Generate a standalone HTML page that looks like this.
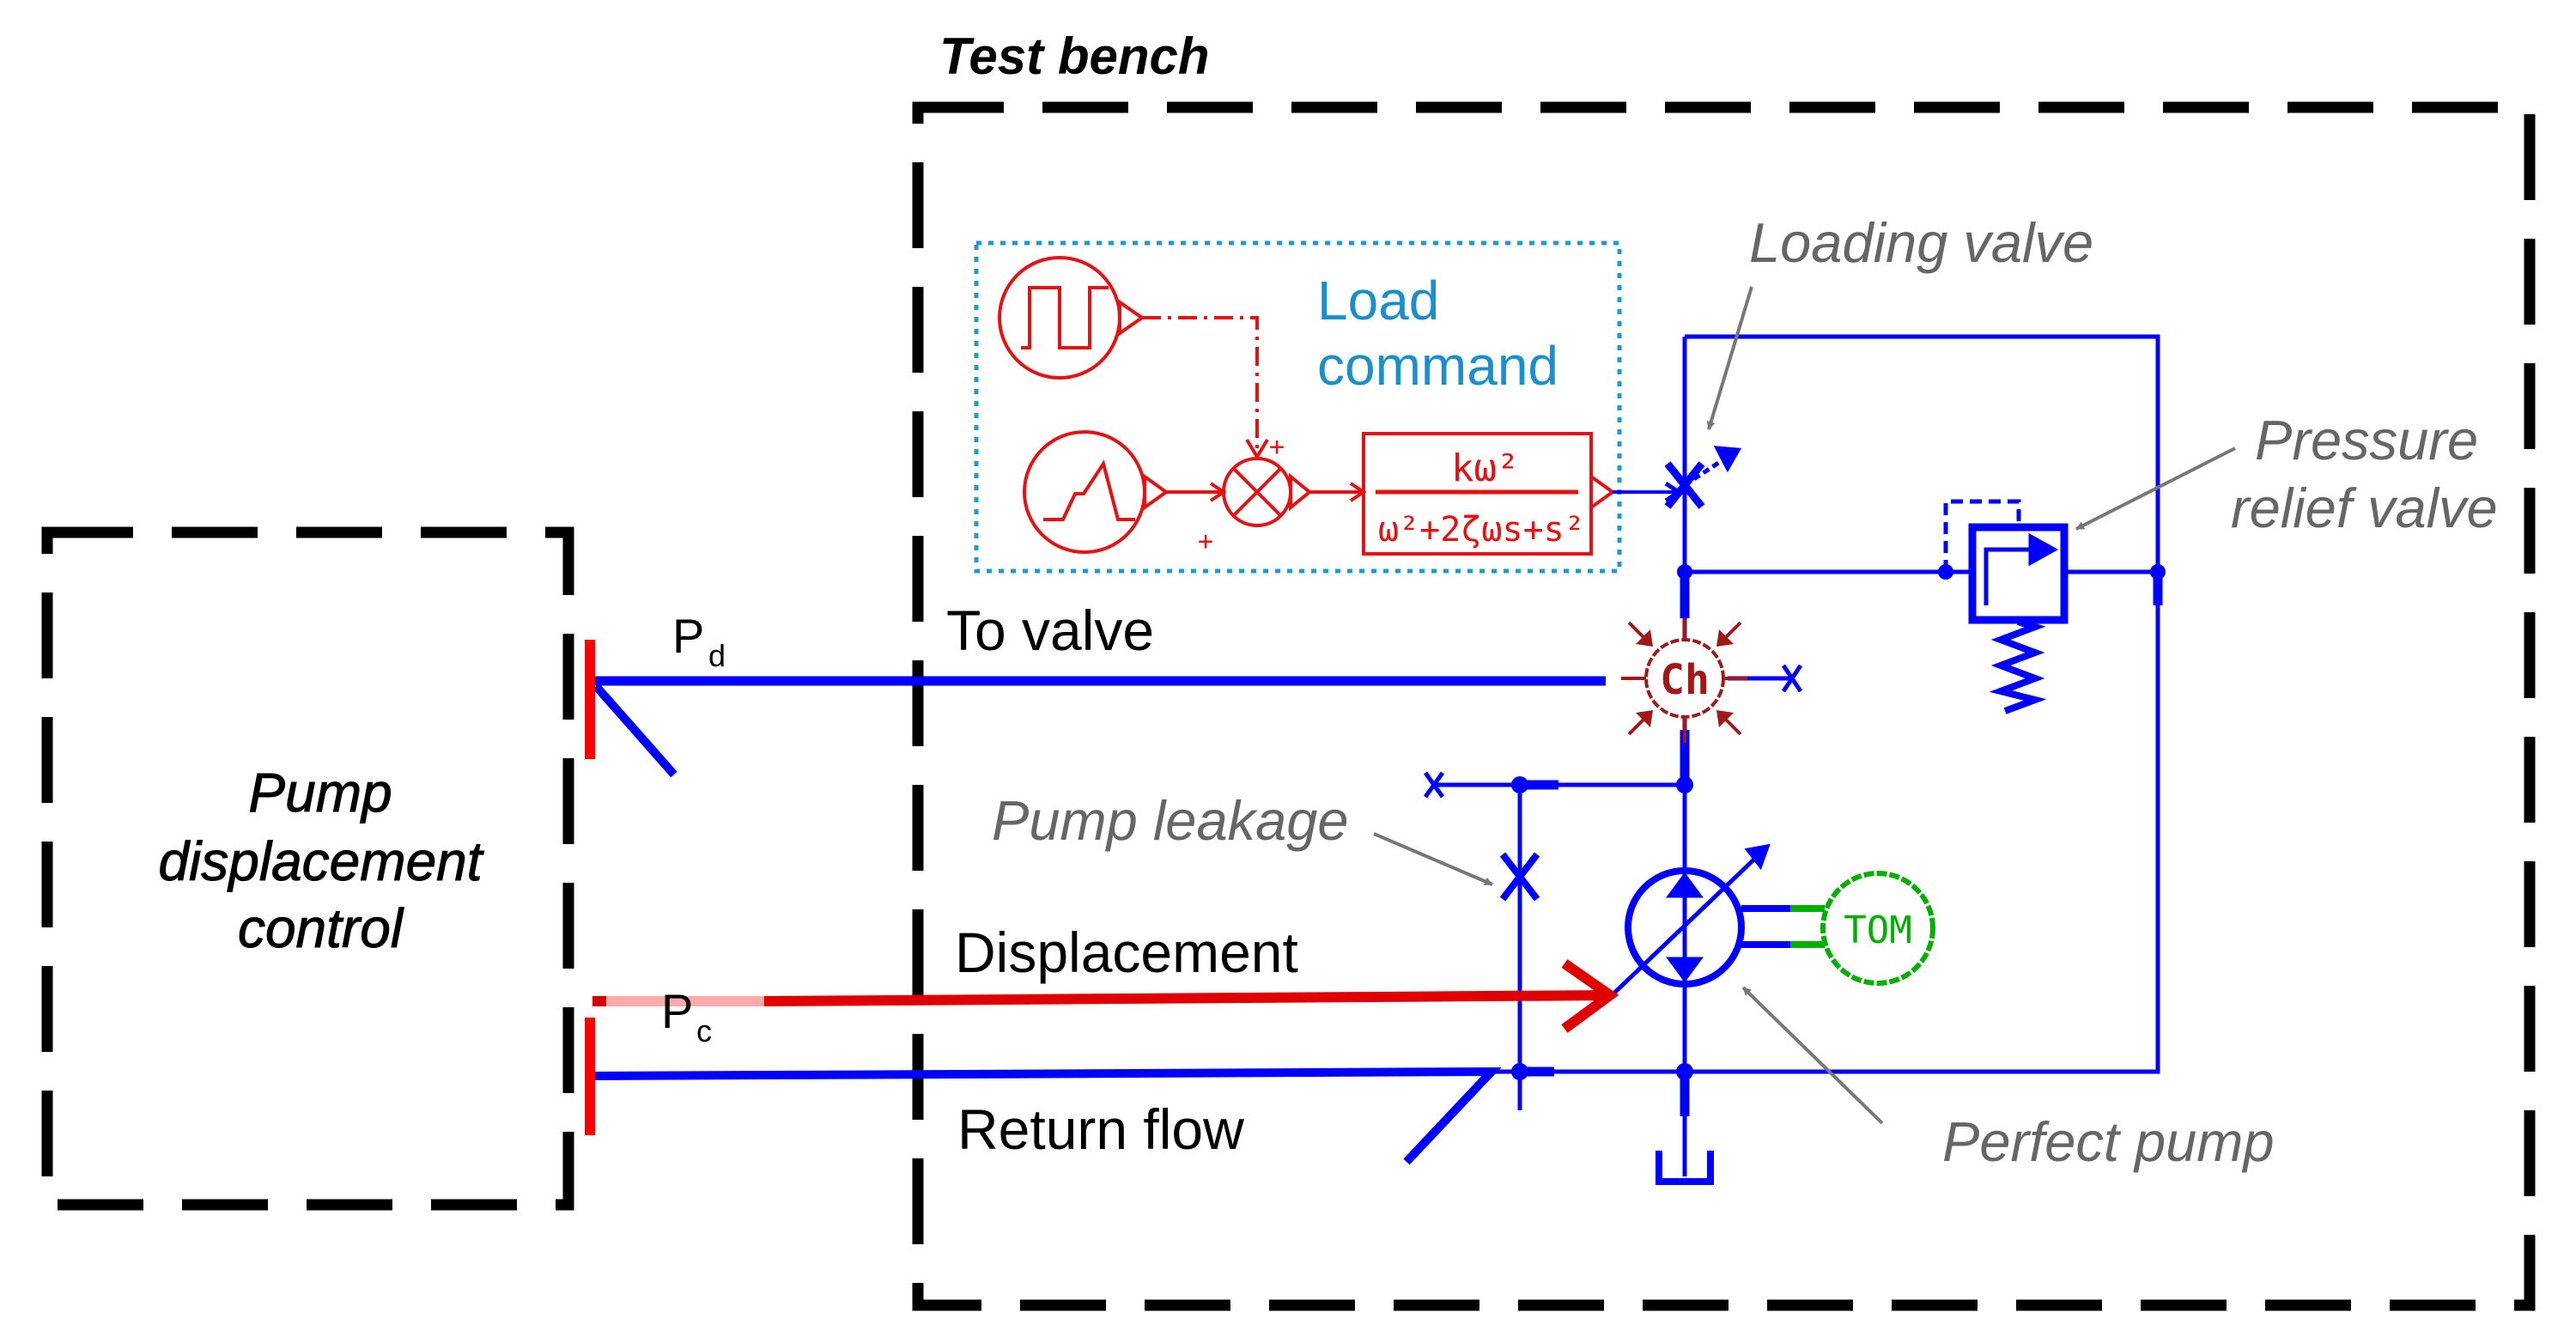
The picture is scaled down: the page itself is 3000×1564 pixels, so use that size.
<!DOCTYPE html>
<html><head><meta charset="utf-8"><style>html,body{margin:0;padding:0;background:#fff}svg{display:block}</style></head>
<body>
<svg width="3000" height="1564" viewBox="0 0 3000 1564" xmlns="http://www.w3.org/2000/svg" font-family="Liberation Sans, Arial, sans-serif">
<defs>
<marker id="ga" markerWidth="10" markerHeight="10" refX="9" refY="5" orient="auto" markerUnits="userSpaceOnUse" viewBox="0 0 10 10"><path d="M0,0 L10,5 L0,10 z" fill="#777"/></marker>
</defs>
<!-- boxes -->
<rect x="55" y="620" width="607" height="783" fill="none" stroke="#000" stroke-width="13" stroke-dasharray="100 45"/>
<rect x="1069" y="125" width="1877" height="1395" fill="none" stroke="#000" stroke-width="13" stroke-dasharray="100 45"/>
<text x="1094" y="86" font-size="60" font-style="italic" font-weight="bold" fill="#000">Test bench</text>
<g font-size="64" font-style="italic" text-anchor="middle" fill="#000" stroke="#000" stroke-width="1">
<text x="373" y="945">Pump</text><text x="373" y="1025">displacement</text><text x="373" y="1103">control</text></g>

<!-- load command -->
<rect x="1137" y="283" width="749" height="382" fill="none" stroke="#1a9ad6" stroke-width="5" stroke-dasharray="6 8"/>
<text x="1534" y="372" font-size="64" fill="#1a8fd0">Load</text>
<text x="1534" y="448" font-size="64" fill="#1a8fd0">command</text>
<g stroke="#e81010" stroke-width="4" fill="none">
<circle cx="1234" cy="370" r="70"/>
<path d="M1189,405 H1199 V335 H1234 V405 H1269 V335 H1291"/>
<path d="M1304,352 L1330,370 L1304,388 z"/>
<path d="M1330,370 H1464 V528" stroke-dasharray="22 8 4 8"/>
<path d="M1452,512 L1464,532 L1476,512"/>
<circle cx="1263" cy="573" r="70"/>
<path d="M1215,605 H1238 L1252,575 H1262 L1285,540 L1302,605 H1322"/>
<path d="M1333,555 L1358,573 L1333,591 z"/>
<path d="M1358,573 H1425 M1410,563 L1425,573 L1410,583"/>
<circle cx="1464" cy="573" r="39"/>
<path d="M1436,545 L1492,601 M1492,545 L1436,601"/>
<path d="M1503,555 L1525,573 L1503,591 z"/>
<path d="M1525,573 H1588 M1573,563 L1588,573 L1573,583"/>
<rect x="1588" y="505" width="265" height="140"/>
<path d="M1602,573 H1838" stroke-width="5"/>
<path d="M1853,555 L1878,573 L1853,591 z"/>
</g>
<g fill="#e81010" font-family="DejaVu Sans Mono, monospace">
<text x="1478" y="530" font-size="30">+</text><text x="1395" y="640" font-size="30">+</text>
<text x="1690" y="560" font-size="44">kω²</text>
<text x="1605" y="630" font-size="40">ω²+2ζωs+s²</text>
</g>

<!-- blue circuit -->
<g stroke="#0000ff" stroke-width="5" fill="none">
<path d="M1878,573 H1955" stroke-width="4"/>
<path d="M1940,563 L1955,573 L1940,583"/>
<path d="M1962,392 V745 M1962,835 V1370"/>
<path d="M1962,392 H2513 V1248 H1737"/>
<path d="M1962,666 H2297 M2404,666 H2513"/>
<path d="M1962,666 V720 M2513,666 V705 M1962,850 V914 M1962,1248 V1300" stroke-width="11"/>
<path d="M1942,540 L1982,590 M1982,540 L1942,590" stroke-width="9"/>
<path d="M1962,565 L2018,528" stroke-dasharray="8 5"/>
<path d="M2000,522 L2024,524 L2012,545 z" fill="#0000ff"/>
<rect x="2297" y="614" width="107" height="108" stroke-width="9"/>
<path d="M2313,705 V640 H2370" stroke-width="5"/>
<path d="M2365,625 L2392,640 L2365,655 z" fill="#0000ff"/>
<path d="M2266,666 V584 H2351 V614" stroke-dasharray="14 8"/>
<path d="M2350,724 L2370,730 L2330,745 L2370,760 L2330,775 L2370,790 L2330,805 L2370,815 L2335,828" stroke-width="8"/>
<path d="M2012,790 H2085 M2077,775 L2097,805 M2097,775 L2077,805"/>
<path d="M1670,914 H1962 M1770,914 V1293"/>
<path d="M1770,914 H1815" stroke-width="11"/>
<path d="M1660,900 L1680,928 M1680,900 L1660,928"/>
<path d="M1750,995 L1790,1047 M1790,995 L1750,1047" stroke-width="8"/>
<circle cx="1962" cy="1080" r="66" stroke-width="8"/>
<path d="M1945,1043 L1962,1020 L1979,1043 z M1945,1117 L1962,1140 L1979,1117 z" fill="#0000ff"/>
<path d="M1874,1162 L2052,992"/>
<path d="M2036,990 L2058,986 L2050,1008 z" fill="#0000ff"/>
<path d="M2028,1058 H2085 M2028,1100 H2085" stroke-width="8"/>
<path d="M1770,1248 H1810" stroke-width="11"/>
<path d="M690,793 H1870" stroke-width="11"/>
<path d="M694,799 L785,902" stroke-width="10"/>
<path d="M690,1253 L1737,1248 L1638,1353" stroke-width="10"/>
<path d="M1932,1340 V1376 H1992 V1340" stroke-width="8"/>
</g>
<g fill="#0000ff">
<circle cx="1962" cy="666" r="9"/><circle cx="2266" cy="666" r="9"/><circle cx="2513" cy="666" r="9"/>
<circle cx="1962" cy="914" r="10"/><circle cx="1770" cy="914" r="10"/><circle cx="1770" cy="1248" r="10"/><circle cx="1962" cy="1248" r="10"/>
</g>
<!-- Ch -->
<g stroke="#a01818" stroke-width="4" fill="none">
<circle cx="1962" cy="790" r="45" stroke-dasharray="10 3"/>
<path d="M1962,720 V745 M1962,835 V865 M1888,790 H1917 M2007,790 H2035"/>
<path d="M1897,725 L1920,748 M2027,725 L2004,748 M1897,855 L1920,832 M2027,855 L2004,832"/>
</g>
<g fill="#a01818">
<path d="M1925,753 L1905,750 L1922,733 z M1999,753 L2019,750 L2002,733 z M1925,827 L1905,830 L1922,847 z M1999,827 L2019,830 L2002,847 z"/>
<text x="1962" y="808" font-size="48" font-weight="bold" text-anchor="middle" font-family="DejaVu Sans Mono, monospace">Ch</text>
</g>
<!-- TOM -->
<path d="M2085,1058 H2125 M2085,1100 H2125" stroke="#00b000" stroke-width="8"/>
<circle cx="2187" cy="1081" r="64" fill="none" stroke="#00b000" stroke-width="6" stroke-dasharray="12 3"/>
<text x="2187" y="1098" font-size="44" text-anchor="middle" fill="#00b000" font-family="DejaVu Sans Mono, monospace">TOM</text>
<!-- red bars & displacement -->
<g stroke="#ff0000" stroke-width="12" fill="none">
<path d="M687,745 V884 M687,1185 V1322"/>
</g>
<path d="M690,1166 H706" stroke="#d00000" stroke-width="12"/>
<path d="M706,1166 H890" stroke="#ffaaaa" stroke-width="12"/>
<path d="M890,1166 L1875,1159 M1822,1122 L1875,1159 L1822,1198" stroke="#e00000" stroke-width="12" fill="none"/>
<!-- labels -->
<g font-size="56" fill="#000">
<text x="783" y="760">P</text><text x="825" y="776" font-size="36">d</text>
<text x="770" y="1197">P</text><text x="811" y="1213" font-size="36">c</text>
</g>
<g font-size="66" fill="#000">
<text x="1102" y="757">To valve</text>
<text x="1112" y="1132">Displacement</text>
<text x="1115" y="1338">Return flow</text>
</g>
<g font-size="65" font-style="italic" fill="#666">
<text x="2037" y="305">Loading valve</text>
<text x="2626" y="535">Pressure</text>
<text x="2598" y="614">relief valve</text>
<text x="1155" y="978">Pump leakage</text>
<text x="2262" y="1352">Perfect pump</text>
</g>
<g stroke="#777" stroke-width="4" fill="none" marker-end="url(#ga)">
<path d="M2040,334 L1990,500"/>
<path d="M2603,522 L2418,616"/>
<path d="M1600,971 L1738,1030"/>
<path d="M2192,1308 L2030,1150"/>
</g>
</svg>
</body></html>
